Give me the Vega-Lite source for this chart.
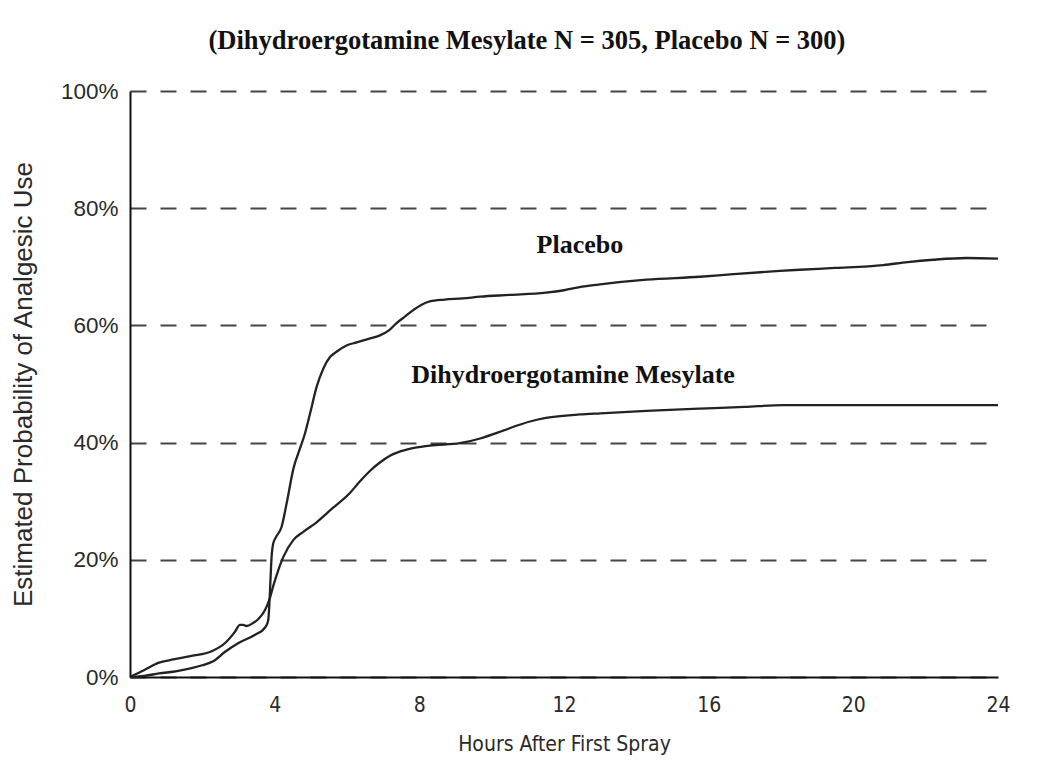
{
  "$schema": "https://vega.github.io/schema/vega-lite/v6.json",
  "width": 868,
  "height": 586,
  "autosize": {"type": "none"},
  "padding": {"left": 130, "top": 91, "right": 53, "bottom": 85},
  "background": "white",
  "title": {
    "text": "(Dihydroergotamine  Mesylate N = 305, Placebo N = 300)",
    "font": "Liberation Serif",
    "fontWeight": "bold",
    "fontSize": 26.5,
    "color": "#111111",
    "anchor": "middle",
    "baseline": "alphabetic",
    "dx": -37,
    "offset": 5
  },
  "config": {
    "view": {"stroke": null},
    "axis": {
      "domainColor": "#111111",
      "domainWidth": 2,
      "ticks": false,
      "labelFlush": false,
      "labelColor": "#2a2a2a",
      "titleColor": "#2a2a2a",
      "titleFontWeight": "normal"
    }
  },
  "datasets": {
    "curves": [
      {"group": "Placebo", "hours": 0, "pct": 0},
      {"group": "Placebo", "hours": 0.4, "pct": 0.2},
      {"group": "Placebo", "hours": 0.8, "pct": 0.6},
      {"group": "Placebo", "hours": 1.3, "pct": 1.0},
      {"group": "Placebo", "hours": 1.7, "pct": 1.5},
      {"group": "Placebo", "hours": 2.0, "pct": 2.0},
      {"group": "Placebo", "hours": 2.3, "pct": 2.7},
      {"group": "Placebo", "hours": 2.63, "pct": 4.3},
      {"group": "Placebo", "hours": 3.0, "pct": 5.8},
      {"group": "Placebo", "hours": 3.46, "pct": 7.2},
      {"group": "Placebo", "hours": 3.73, "pct": 8.4},
      {"group": "Placebo", "hours": 3.82, "pct": 9.6},
      {"group": "Placebo", "hours": 3.85, "pct": 12},
      {"group": "Placebo", "hours": 3.88, "pct": 16},
      {"group": "Placebo", "hours": 3.91, "pct": 20},
      {"group": "Placebo", "hours": 3.96, "pct": 22.8},
      {"group": "Placebo", "hours": 4.05, "pct": 24},
      {"group": "Placebo", "hours": 4.19, "pct": 25.6},
      {"group": "Placebo", "hours": 4.33, "pct": 29.6},
      {"group": "Placebo", "hours": 4.52, "pct": 35.6},
      {"group": "Placebo", "hours": 4.7, "pct": 39},
      {"group": "Placebo", "hours": 4.84, "pct": 41.6},
      {"group": "Placebo", "hours": 4.98, "pct": 45},
      {"group": "Placebo", "hours": 5.16, "pct": 49.5},
      {"group": "Placebo", "hours": 5.35, "pct": 52.7},
      {"group": "Placebo", "hours": 5.53, "pct": 54.6},
      {"group": "Placebo", "hours": 5.71, "pct": 55.5},
      {"group": "Placebo", "hours": 6.0, "pct": 56.6},
      {"group": "Placebo", "hours": 6.27, "pct": 57.1},
      {"group": "Placebo", "hours": 6.6, "pct": 57.7},
      {"group": "Placebo", "hours": 6.91, "pct": 58.3},
      {"group": "Placebo", "hours": 7.15, "pct": 59.1},
      {"group": "Placebo", "hours": 7.37, "pct": 60.4},
      {"group": "Placebo", "hours": 7.6, "pct": 61.5},
      {"group": "Placebo", "hours": 7.83, "pct": 62.6},
      {"group": "Placebo", "hours": 8.05, "pct": 63.5},
      {"group": "Placebo", "hours": 8.29, "pct": 64.1},
      {"group": "Placebo", "hours": 8.7, "pct": 64.4},
      {"group": "Placebo", "hours": 9.2, "pct": 64.6},
      {"group": "Placebo", "hours": 9.68, "pct": 64.9},
      {"group": "Placebo", "hours": 10.5, "pct": 65.2},
      {"group": "Placebo", "hours": 11.5, "pct": 65.6},
      {"group": "Placebo", "hours": 12.0, "pct": 66.0},
      {"group": "Placebo", "hours": 12.5, "pct": 66.6},
      {"group": "Placebo", "hours": 13.0, "pct": 67.0},
      {"group": "Placebo", "hours": 14.28, "pct": 67.8},
      {"group": "Placebo", "hours": 15.76, "pct": 68.3},
      {"group": "Placebo", "hours": 16.6, "pct": 68.7},
      {"group": "Placebo", "hours": 17.97, "pct": 69.3},
      {"group": "Placebo", "hours": 18.52, "pct": 69.5},
      {"group": "Placebo", "hours": 19.5, "pct": 69.8},
      {"group": "Placebo", "hours": 20.83, "pct": 70.3},
      {"group": "Placebo", "hours": 21.5, "pct": 70.8},
      {"group": "Placebo", "hours": 22.21, "pct": 71.2},
      {"group": "Placebo", "hours": 23.13, "pct": 71.5},
      {"group": "Placebo", "hours": 24, "pct": 71.4},
      {"group": "DHE", "hours": 0, "pct": 0},
      {"group": "DHE", "hours": 0.4, "pct": 1.2},
      {"group": "DHE", "hours": 0.78, "pct": 2.4},
      {"group": "DHE", "hours": 1.2, "pct": 3.0},
      {"group": "DHE", "hours": 1.7, "pct": 3.6},
      {"group": "DHE", "hours": 2.26, "pct": 4.4},
      {"group": "DHE", "hours": 2.63, "pct": 5.8},
      {"group": "DHE", "hours": 2.9, "pct": 7.7},
      {"group": "DHE", "hours": 3.04, "pct": 8.9},
      {"group": "DHE", "hours": 3.13, "pct": 8.9},
      {"group": "DHE", "hours": 3.22, "pct": 8.7},
      {"group": "DHE", "hours": 3.4, "pct": 9.2},
      {"group": "DHE", "hours": 3.55, "pct": 9.9},
      {"group": "DHE", "hours": 3.73, "pct": 11.4},
      {"group": "DHE", "hours": 3.87, "pct": 13.5},
      {"group": "DHE", "hours": 3.96, "pct": 15.5},
      {"group": "DHE", "hours": 4.05, "pct": 17.3},
      {"group": "DHE", "hours": 4.24, "pct": 20.5},
      {"group": "DHE", "hours": 4.52, "pct": 23.4},
      {"group": "DHE", "hours": 4.8, "pct": 24.8},
      {"group": "DHE", "hours": 5.16, "pct": 26.4},
      {"group": "DHE", "hours": 5.6, "pct": 28.8},
      {"group": "DHE", "hours": 6.08, "pct": 31.4},
      {"group": "DHE", "hours": 6.36, "pct": 33.4},
      {"group": "DHE", "hours": 6.64, "pct": 35.2},
      {"group": "DHE", "hours": 6.91, "pct": 36.6},
      {"group": "DHE", "hours": 7.2, "pct": 37.8},
      {"group": "DHE", "hours": 7.65, "pct": 38.8},
      {"group": "DHE", "hours": 8.29, "pct": 39.5},
      {"group": "DHE", "hours": 9.12, "pct": 39.9},
      {"group": "DHE", "hours": 9.68, "pct": 40.7},
      {"group": "DHE", "hours": 10.2, "pct": 41.8},
      {"group": "DHE", "hours": 11.06, "pct": 43.6},
      {"group": "DHE", "hours": 11.5, "pct": 44.2},
      {"group": "DHE", "hours": 12.44, "pct": 44.8},
      {"group": "DHE", "hours": 13.0, "pct": 45.0},
      {"group": "DHE", "hours": 14.28, "pct": 45.4},
      {"group": "DHE", "hours": 15.76, "pct": 45.8},
      {"group": "DHE", "hours": 17.0, "pct": 46.1},
      {"group": "DHE", "hours": 18.06, "pct": 46.4},
      {"group": "DHE", "hours": 24, "pct": 46.4}
    ],
    "labels": [
      {"label": "Placebo", "hours": 12.44, "pct": 73.7},
      {"label": "Dihydroergotamine  Mesylate", "hours": 12.25, "pct": 51.5}
    ]
  },
  "layer": [
    {
      "data": {"name": "curves"},
      "mark": {"type": "line", "interpolate": "monotone", "color": "#222222", "strokeWidth": 2.3},
      "encoding": {
        "x": {
          "field": "hours",
          "type": "quantitative",
          "scale": {"domain": [0, 24], "nice": false},
          "axis": {
            "values": [0, 4, 8, 12, 16, 20, 24],
            "title": "Hours After First Spray",
            "grid": false,
            "labelFont": "Liberation Sans Narrow, DejaVu Sans Condensed, Roboto, Liberation Sans, sans-serif",
            "labelFontSize": 21,
            "labelPadding": 17,
            "titleFont": "Liberation Sans Narrow, DejaVu Sans Condensed, Roboto, Liberation Sans, sans-serif",
            "titleFontSize": 21,
            "titlePadding": 18
          }
        },
        "y": {
          "field": "pct",
          "type": "quantitative",
          "scale": {"domain": [0, 100], "nice": false},
          "axis": {
            "values": [0, 20, 40, 60, 80, 100],
            "labelExpr": "datum.value + '%'",
            "title": "Estimated Probability of Analgesic Use",
            "grid": true,
            "gridDash": [16, 14],
            "gridColor": "#444444",
            "gridWidth": 2,
            "labelFont": "Liberation Sans, sans-serif",
            "labelFontSize": 22.5,
            "labelPadding": 12,
            "titleFont": "Liberation Sans, sans-serif",
            "titleFontSize": 26,
            "titlePadding": 24
          }
        },
        "detail": {"field": "group"}
      }
    },
    {
      "data": {"name": "labels"},
      "mark": {"type": "text", "font": "Liberation Serif", "fontWeight": "bold", "fontSize": 26, "color": "#111111", "align": "center", "baseline": "middle"},
      "encoding": {
        "x": {"field": "hours", "type": "quantitative"},
        "y": {"field": "pct", "type": "quantitative"},
        "text": {"field": "label"}
      }
    }
  ]
}
